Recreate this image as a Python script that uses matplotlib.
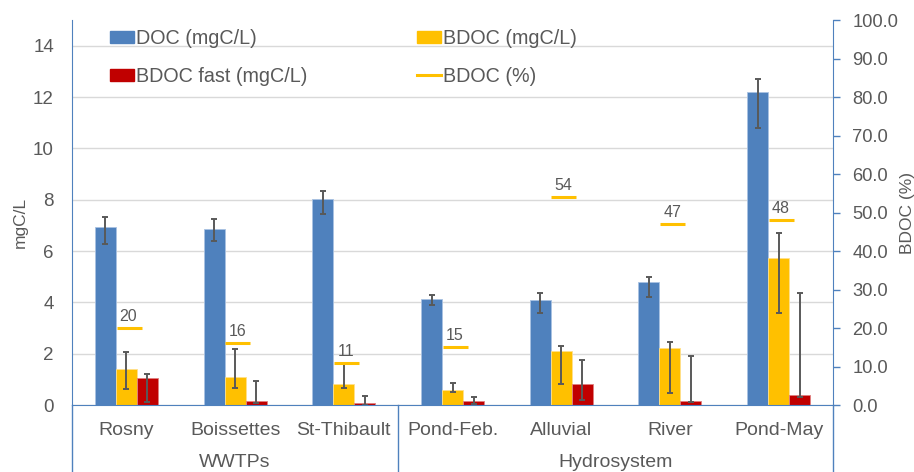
import numpy as np
from matplotlib import pyplot as plt
from matplotlib.lines import Line2D
from matplotlib.patches import Patch
import matplotlib.transforms as mtransforms

plt.rcParams['font.family'] = ['Liberation Sans', 'DejaVu Sans']

# 采样点与分组
sites = ['Rosny', 'Boissettes', 'St-Thibault', 'Pond-Feb.', 'Alluvial', 'River', 'Pond-May']
groups = ['WWTPs', 'Hydrosystem']
group_sizes = [3, 4]

# DOC (mgC/L) 及误差（下/上）
doc = [6.95, 6.87, 8.01, 4.12, 4.09, 4.80, 12.21]
doc_err_lo = [0.69, 0.48, 0.57, 0.22, 0.52, 0.60, 1.43]
doc_err_hi = [0.36, 0.39, 0.34, 0.16, 0.26, 0.20, 0.49]

# BDOC (mgC/L)
bdoc = [1.39, 1.09, 0.81, 0.58, 2.10, 2.22, 5.71]
bdoc_err_lo = [0.75, 0.43, 0.14, 0.09, 1.28, 1.74, 2.14]
bdoc_err_hi = [0.67, 1.10, 0.78, 0.29, 0.20, 0.23, 0.98]

# BDOC fast (mgC/L)
bdoc_fast = [1.04, 0.14, 0.07, 0.17, 0.81, 0.14, 0.38]
fast_err_lo = [0.91, 0.07, 0.07, 0.12, 0.62, 0.01, 0.08]
fast_err_hi = [0.16, 0.79, 0.29, 0.13, 0.94, 1.77, 3.97]

# BDOC (%)
bdoc_pct = [20, 16, 11, 15, 54, 47, 48]

c_doc = '#4F81BD'
c_bdoc = '#FFC000'
c_fast = '#C00000'
c_text = '#595959'
c_axis = '#4F81BD'

fig = plt.figure(figsize=(9.14, 4.72), dpi=100)
ax = fig.add_axes([0.0788, 0.1419, 0.8326, 0.8157])

x = np.arange(len(sites))
w = 0.193
err_kw = dict(ecolor='#595959', elinewidth=1.4, capsize=2.5, capthick=1.4)
ax.bar(x - w, doc, w, color=c_doc, edgecolor='#A9C2E2', linewidth=0.6,
       yerr=[doc_err_lo, doc_err_hi], error_kw=err_kw, zorder=2)
ax.bar(x, bdoc, w, color=c_bdoc, edgecolor='#FFE08A', linewidth=0.6,
       yerr=[bdoc_err_lo, bdoc_err_hi], error_kw=err_kw, zorder=2)
ax.bar(x + w, bdoc_fast, w, color=c_fast, edgecolor='#E08080', linewidth=0.6,
       yerr=[fast_err_lo, fast_err_hi], error_kw=err_kw, zorder=2)

ax.set_xlim(-0.5, len(sites) - 0.5)
ax.set_ylim(0, 15)
ax.set_yticks(np.arange(0, 15, 2))
ax.yaxis.grid(True, color='#D9D9D9', linewidth=1.0, zorder=0)
ax.set_axisbelow(True)
ax.tick_params(axis='y', length=0, pad=13, labelsize=13.5, labelcolor=c_text)
ax.set_xticks(x)
ax.set_xticklabels(sites)
ax.tick_params(axis='x', length=0, pad=12, labelsize=14, labelcolor=c_text)
ax.set_ylabel('mgC/L', fontsize=12.5, color=c_text, va='center')
ax.yaxis.set_label_coords(-0.068, 0.475)

for s in ['top', 'right']:
    ax.spines[s].set_visible(False)
ax.spines['left'].set_color(c_axis)
ax.spines['bottom'].set_color(c_axis)

# 右轴：BDOC (%)
ax2 = ax.twinx()
ax2.set_ylim(0, 100)
ax2.set_yticks(np.arange(0, 101, 10))
ax2.set_yticklabels(['%.1f' % v for v in np.arange(0, 101, 10)])
ax2.tick_params(axis='y', length=5, width=1, color=c_axis, pad=9,
                labelsize=13.2, labelcolor=c_text, direction='out')
for s in ['top', 'left', 'bottom']:
    ax2.spines[s].set_visible(False)
ax2.spines['right'].set_color(c_axis)
ax2.set_ylabel('BDOC (%)', fontsize=12.5, color=c_text, rotation=90, va='center')
ax2.yaxis.set_label_coords(1.0975, 0.5)

ax2.plot(x + 0.02, bdoc_pct, linestyle='none', marker='_', markersize=18,
         markeredgewidth=2.2, color=c_bdoc, zorder=3)
for xi, p in zip(x, bdoc_pct):
    ax2.annotate(str(p), (xi + 0.02, p), xytext=(0, 3), textcoords='offset points',
                 ha='center', va='bottom', fontsize=11.5, color=c_text)

# 分组分隔线与分组标题
trans = mtransforms.blended_transform_factory(ax.transData, ax.transAxes)
bottom = -0.1419 / 0.8157
edges = np.concatenate([[0], np.cumsum(group_sizes)]) - 0.5
for e in edges:
    ax.add_line(Line2D([e, e], [0, bottom], transform=trans, color=c_axis,
                       linewidth=1.0, clip_on=False))
for g, a, b in zip(groups, edges[:-1], edges[1:]):
    ax.text((a + b) / 2, bottom + 0.003, g, transform=trans, ha='center',
            va='bottom', fontsize=14, color=c_text)

handles = [Patch(color=c_doc), Patch(color=c_fast),
           Patch(color=c_bdoc), Line2D([], [], color=c_bdoc, linewidth=2.2)]
labels = ['DOC (mgC/L)', 'BDOC fast (mgC/L)', 'BDOC (mgC/L)', 'BDOC (%)']
ax.legend(handles, labels, ncol=2, loc='upper left', bbox_to_anchor=(0.026, 1.022),
          frameon=False, fontsize=14.2, handlelength=1.22, handleheight=0.58,
          handletextpad=0.1, columnspacing=5.6, labelspacing=0.95,
          labelcolor=c_text)

plt.savefig('out.png', dpi=100)
